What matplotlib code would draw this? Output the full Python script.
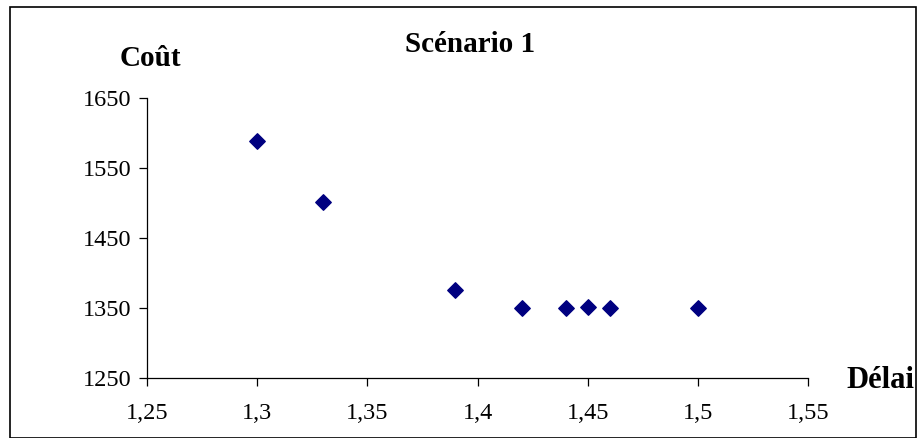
import matplotlib.pyplot as plt
from matplotlib.patches import Rectangle
from matplotlib.ticker import FuncFormatter

# Données du scénario 1
delai = [1.30, 1.33, 1.39, 1.42, 1.44, 1.45, 1.46, 1.50]
cout = [1589, 1501, 1375, 1350, 1350, 1351, 1350, 1350]

plt.rcParams['font.family'] = ['Liberation Serif', 'DejaVu Serif']

W, H = 919, 438
fig = plt.figure(figsize=(W / 100, H / 100), dpi=100)

# cadre autour du graphique
fig.patches.append(Rectangle((10 / W, 0), (916 - 10) / W, 1 - 7 / H,
                             transform=fig.transFigure, fill=False,
                             edgecolor='black', linewidth=1.2))

ax = fig.add_axes([147 / W, 1 - 378 / H, (808 - 147) / W, (378 - 98) / H])
ax.scatter(delai, cout, marker='D', s=62, color='#000080', zorder=3,
           clip_on=False)

ax.set_xlim(1.25, 1.55)
ax.set_ylim(1250, 1650)
ax.set_xticks([1.25, 1.3, 1.35, 1.4, 1.45, 1.5, 1.55])
ax.set_yticks([1250, 1350, 1450, 1550, 1650])
ax.xaxis.set_major_formatter(FuncFormatter(lambda v, p: f'{v:g}'.replace('.', ',')))

for s in ['top', 'right']:
    ax.spines[s].set_visible(False)
for s in ['left', 'bottom']:
    ax.spines[s].set_linewidth(0.9)
ax.tick_params(direction='out', length=6, width=0.9, labelsize=17.5, pad=12)
ax.tick_params(axis='y', pad=5)

fig.text(470 / W, 1 - 45 / H, 'Scénario 1', ha='center', va='center',
         fontsize=21, fontweight='bold')
fig.text(150 / W, 1 - 58 / H, 'Coût', ha='center', va='center',
         fontsize=21, fontweight='bold')
fig.text(880 / W, 1 - 380 / H, 'Délai', ha='center', va='center',
         fontsize=22, fontweight='bold')

fig.savefig('out.png', dpi=100)
